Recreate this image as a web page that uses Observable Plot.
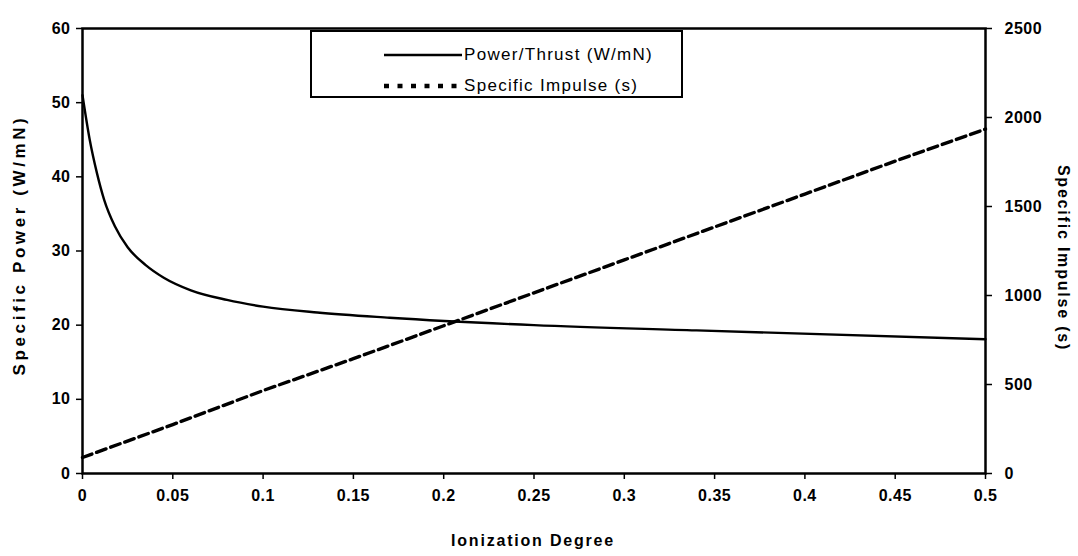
<!DOCTYPE html>
<html><head><meta charset="utf-8">
<script src="https://cdn.jsdelivr.net/npm/d3@7"></script>
<script src="https://cdn.jsdelivr.net/npm/@observablehq/plot@0.6"></script>
<style>
body{margin:0;background:#fff;}
#wrap{position:relative;width:1078px;height:556px;font-family:"Liberation Sans",Arial,sans-serif;color:#000;}
#legend{position:absolute;left:310px;top:30px;width:373px;height:68px;border:2px solid #000;box-sizing:border-box;background:#fff;font-size:17px;letter-spacing:1.3px;}
#legend .row{position:absolute;left:70px;height:20px;display:flex;align-items:center;}
#legend svg{display:block;margin-right:2px;}
</style></head><body><div id="wrap"></div>
<script>
// Power/Thrust curve (W/mN) vs ionization degree
const ionization = [0, 0.004, 0.008, 0.012, 0.018, 0.025, 0.035, 0.045, 0.06, 0.08, 0.1, 0.13, 0.17, 0.25, 0.34, 0.5];
const powerPerThrust = [51, 45, 40.5, 36.9, 33.3, 30.5, 28.1, 26.4, 24.7, 23.4, 22.5, 21.7, 21.0, 20.0, 19.3, 18.1];
// Specific impulse (s) vs ionization degree
const ispIonization = [0, 0.05, 0.1, 0.15, 0.2, 0.25, 0.3, 0.35, 0.4, 0.45, 0.5];
const specificImpulse = [90, 275, 466, 645, 830, 1015, 1200, 1385, 1570, 1755, 1935];
// Axes
const xTicks = [0, 0.05, 0.1, 0.15, 0.2, 0.25, 0.3, 0.35, 0.4, 0.45, 0.5];
const leftTicks = [0, 10, 20, 30, 40, 50, 60];
const rightTicks = [0, 500, 1000, 1500, 2000, 2500];
const POWER_MAX = 60, ISP_MAX = 2500;
const k = POWER_MAX / ISP_MAX;

const powerRows = ionization.map((x, i) => ({x, y: powerPerThrust[i]}));
const ispRows = ispIonization.map((x, i) => ({x, isp: specificImpulse[i]}));

const font = '"Liberation Sans", Arial, sans-serif';
const chart = Plot.plot({
  width: 1078, height: 556,
  marginLeft: 82, marginRight: 93, marginTop: 28, marginBottom: 83,
  style: {fontFamily: font, fontSize: "16px", color: "#000", background: "#fff", overflow: "visible"},
  x: {domain: [0, 0.5]},
  y: {domain: [0, POWER_MAX]},
  marks: [
    Plot.axisX({ticks: xTicks, tickSize: 6, tickPadding: 10, label: null, tickFormat: d => String(+d.toFixed(2)), stroke: "#000", strokeWidth: 1.5}),
    Plot.axisY({ticks: leftTicks, tickSize: 6, tickPadding: 6, label: null, stroke: "#000", strokeWidth: 1.5}),
    Plot.axisY(rightTicks.map(v => v * k), {anchor: "right", tickSize: 6, tickPadding: 13, label: null, tickFormat: v => String(Math.round(v / k)), stroke: "#000", strokeWidth: 1.5}),
    Plot.line(powerRows, {x: "x", y: "y", stroke: "#000", strokeWidth: 2.4, curve: "monotone-x"}),
    Plot.line(ispRows, {x: "x", y: d => d.isp * k, stroke: "#000", strokeWidth: 3.4, strokeDasharray: "10,5"}),
    Plot.frame({stroke: "#000", strokeWidth: 2.5})
  ]
});
const wrap = document.getElementById("wrap");
wrap.appendChild(chart);

const svg = d3.select(chart);
svg.selectAll("g[aria-label$='tick label'] text").attr("letter-spacing", "0.5px").attr("font-weight", "bold");
svg.append("text").attr("x", 533).attr("y", 546).attr("text-anchor", "middle")
  .attr("font-weight", "bold").attr("font-size", 16).attr("letter-spacing", "1.8px").attr("font-family", font)
  .text("Ionization Degree");
svg.append("text").attr("transform", "translate(25,245) rotate(-90)").attr("text-anchor", "middle")
  .attr("font-weight", "bold").attr("font-size", 17).attr("letter-spacing", "3.6px").attr("font-family", font)
  .text("Specific Power (W/mN)");
svg.append("text").attr("transform", "translate(1058,258) rotate(90)").attr("text-anchor", "middle")
  .attr("font-weight", "bold").attr("font-size", 16).attr("letter-spacing", "1.8px").attr("font-family", font)
  .text("Specific Impulse (s)");

// legend
const legend = document.createElement("div");
legend.id = "legend";
legend.innerHTML = `
<div class="row" style="top:13px"><svg width="80" height="6"><line x1="2" y1="3" x2="80" y2="3" stroke="#000" stroke-width="2.5"/></svg><span>Power/Thrust (W/mN)</span></div>
<div class="row" style="top:44px"><svg width="80" height="8"><line x1="2" y1="4" x2="78" y2="4" stroke="#000" stroke-width="4.5" stroke-dasharray="5,8.5"/></svg><span>Specific Impulse (s)</span></div>`;
wrap.appendChild(legend);
</script>
</body></html>
